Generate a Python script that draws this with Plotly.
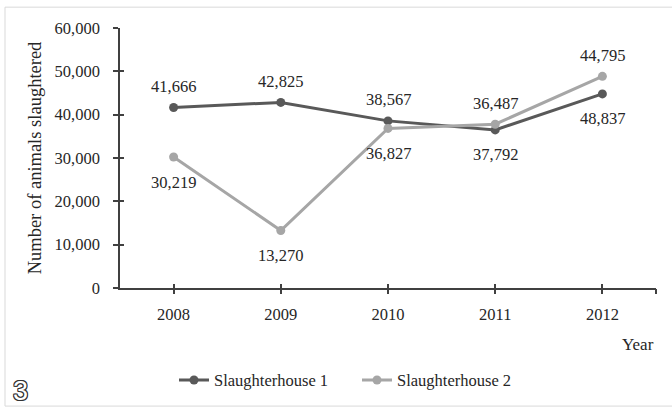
import plotly.graph_objects as go

years = ["2008", "2009", "2010", "2011", "2012"]
house1 = [41666, 42825, 38567, 36487, 44795]
house2 = [30219, 13270, 36827, 37792, 48837]
names = ["Slaughterhouse 1", "Slaughterhouse 2"]
y_title = "Number of animals slaughtered"
x_title = "Year"

W, H = 672, 410
L, R, T, B = 120, 656, 28, 290
def px2x(px):
    return (px - L) / (R - L)
def px2y(py):
    return (B - py) / (B - T)

SERIF = "Liberation Serif, Times New Roman, serif"
TXT = "#262626"
AX = "#404040"
C1 = "#595959"
C2 = "#A6A6A6"
FS = 16.5

fig = go.Figure()
fig.add_trace(go.Scatter(x=years, y=house1, name=names[0], mode="lines+markers",
                         line=dict(color=C1, width=3), marker=dict(color=C1, size=9)))
fig.add_trace(go.Scatter(x=years, y=house2, name=names[1], mode="lines+markers",
                         line=dict(color=C2, width=3), marker=dict(color=C2, size=9)))

# data labels: series 1 labels above the upper point, series 2 labels below the lower point
for i, yr in enumerate(years):
    hi = max(house1[i], house2[i])
    lo = min(house1[i], house2[i])
    fig.add_annotation(x=i, y=hi, xref="x", yref="y", text=f"{house1[i]:,}", showarrow=False,
                       yshift=21, font=dict(family=SERIF, size=FS, color=TXT))
    fig.add_annotation(x=i, y=lo, xref="x", yref="y", text=f"{house2[i]:,}", showarrow=False,
                       yshift=-25, font=dict(family=SERIF, size=FS, color=TXT))

fig.add_annotation(x=1, xref="paper", y=0, yref="paper", yshift=-56, text=x_title,
                   showarrow=False, xanchor="right", yanchor="middle",
                   font=dict(family=SERIF, size=17, color=TXT))

# outlined "3" marker in the corner
fig.add_annotation(x=px2x(20), xref="paper", y=px2y(394), yref="paper", text="3",
                   showarrow=False, xanchor="center", yanchor="middle",
                   font=dict(family="Liberation Sans, Arial, sans-serif", size=27, color="white",
                             shadow="1px 0 0 #333, -1px 0 0 #333, 0 1px 0 #333, 0 -1px 0 #333, "
                                    "1px 1px 0 #333, -1px -1px 0 #333, 1px -1px 0 #333, -1px 1px 0 #333"))

# chart border
fig.add_shape(type="rect", xref="paper", yref="paper",
              x0=px2x(5), x1=px2x(680), y0=px2y(409), y1=px2y(7),
              line=dict(color="#d9d9d9", width=1), fillcolor="rgba(0,0,0,0)", layer="below")

n = len(years)
tick_positions = list(range(n)) + [n - 0.5]

fig.update_layout(
    width=W, height=H,
    margin=dict(l=L, r=W - R, t=T, b=H - B, pad=0),
    paper_bgcolor="white", plot_bgcolor="white",
    font=dict(family=SERIF, size=FS, color=TXT),
    showlegend=True,
    legend=dict(orientation="h", x=px2x(174), xref="paper", xanchor="left",
                y=px2y(383), yanchor="middle", font=dict(family=SERIF, size=16.5, color=TXT),
                entrywidth=138, entrywidthmode="pixels", itemwidth=30),
    xaxis=dict(type="category", range=[-0.5, n - 0.5], showline=True, linecolor=AX, linewidth=1.5,
               ticks="", showgrid=False, zeroline=False, ticklabelstandoff=10,
               tickfont=dict(family=SERIF, size=FS, color=TXT)),
    xaxis2=dict(overlaying="x", range=[-0.5, n - 0.5], tickmode="array", tickvals=tick_positions,
                ticks="outside", ticklen=5, tickwidth=1.5, tickcolor=AX, showticklabels=False,
                showgrid=False, zeroline=False, showline=False, side="bottom"),
    xaxis3=dict(overlaying="x", range=[-0.5, n - 0.5], tickmode="array", tickvals=tick_positions,
                ticks="inside", ticklen=4, tickwidth=1.5, tickcolor=AX, showticklabels=False,
                showgrid=False, zeroline=False, showline=False, side="bottom"),
    yaxis=dict(range=[0, 60000], dtick=10000, tickformat=",", showline=True, linecolor=AX,
               linewidth=1.5, ticks="outside", ticklen=5, tickwidth=1.5, tickcolor=AX,
               showgrid=False, zeroline=False, ticklabelstandoff=10,
               title=dict(text=y_title, standoff=8, font=dict(family=SERIF, size=18.5, color=TXT)),
               tickfont=dict(family=SERIF, size=FS, color=TXT)),
    yaxis2=dict(overlaying="y", range=[0, 60000], dtick=10000, ticks="inside", ticklen=4,
                tickwidth=1.5, tickcolor=AX, showticklabels=False, showgrid=False,
                zeroline=False, showline=False),
)
# invisible helper traces to activate overlay tick axes
fig.add_trace(go.Scatter(x=[0], y=[0], xaxis="x2", yaxis="y2", mode="markers",
                         marker=dict(opacity=0), showlegend=False, hoverinfo="skip"))
fig.add_trace(go.Scatter(x=[0], y=[0], xaxis="x3", yaxis="y2", mode="markers",
                         marker=dict(opacity=0), showlegend=False, hoverinfo="skip"))

fig.write_html("out.html")
